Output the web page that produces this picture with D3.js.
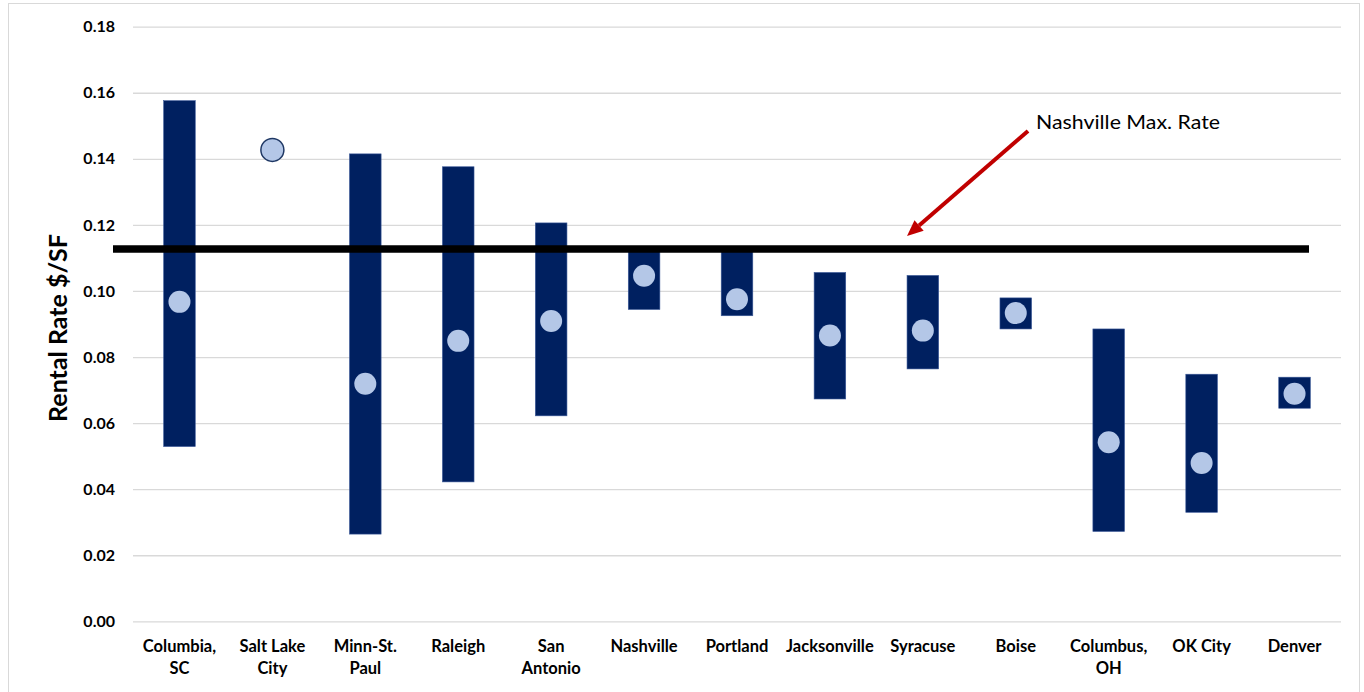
<!DOCTYPE html>
<html>
<head>
<meta charset="utf-8">
<script src="https://cdn.jsdelivr.net/npm/d3@7"></script>
<style>
  html, body { margin: 0; padding: 0; background: #fff; }
  svg { display: block; }
</style>
</head>
<body>
<div id="chart"></div>
<script>
// Rental rate ranges ($/SF) by metro area
const categories = ["Columbia, SC", "Salt Lake City", "Minn-St. Paul", "Raleigh", "San Antonio",
  "Nashville", "Portland", "Jacksonville", "Syracuse", "Boise", "Columbus, OH", "OK City", "Denver"];
const labelLines = [["Columbia,", "SC"], ["Salt Lake", "City"], ["Minn-St.", "Paul"], ["Raleigh"],
  ["San", "Antonio"], ["Nashville"], ["Portland"], ["Jacksonville"], ["Syracuse"], ["Boise"],
  ["Columbus,", "OH"], ["OK City"], ["Denver"]];
const rateMin = [0.0529, null, 0.0264, 0.0422, 0.0622, 0.0944, 0.0925, 0.0673, 0.0764, 0.0885, 0.0272, 0.0330, 0.0645];
const rateMax = [0.1576, null, 0.1415, 0.1376, 0.1206, 0.1120, 0.1120, 0.1056, 0.1047, 0.0979, 0.0885, 0.0748, 0.0739];
const rateAvg = [0.0967, 0.1427, 0.0719, 0.0849, 0.0909, 0.1046, 0.0975, 0.0865, 0.0880, 0.0933, 0.0542, 0.0479, 0.0689];
const yTicks = [0, 0.02, 0.04, 0.06, 0.08, 0.10, 0.12, 0.14, 0.16, 0.18];
const nashvilleMaxRate = 0.1127;
const annotationText = "Nashville Max. Rate";
const yTitle = "Rental Rate $/SF";

const W = 1364, H = 692;
const plot = { left: 133, right: 1341, top: 26.7, bottom: 621.3 };

const svg = d3.select("#chart").append("svg")
  .attr("width", W).attr("height", H)
  .style("font-family", "Lato, 'Open Sans', sans-serif");

// chart frame
svg.append("rect")
  .attr("x", 8.5).attr("y", 3.5).attr("width", 1351).attr("height", 700)
  .attr("fill", "#fff").attr("stroke", "#d9d9d9").attr("stroke-width", 1);

const x = d3.scaleBand().domain(categories)
  .range([plot.left, plot.right]).paddingInner(0.66).paddingOuter(0.33);
const y = d3.scaleLinear().domain([0, 0.18]).range([plot.bottom, plot.top]);

// y axis with gridlines
const yAxis = d3.axisLeft(y).tickValues(yTicks).tickFormat(d3.format(".2f"))
  .tickSize(-(plot.right - plot.left)).tickPadding(18);
const gy = svg.append("g").attr("transform", `translate(${plot.left},0)`).call(yAxis);
gy.select(".domain").remove();
gy.selectAll(".tick line").attr("stroke", "#d9d9d9").attr("stroke-width", 1.3);
gy.selectAll(".tick text")
  .attr("fill", "#000").attr("font-size", 16).attr("font-weight", 700)
  .style("font-family", "Lato, sans-serif");

// y axis title
svg.append("text")
  .attr("transform", `translate(67,${(plot.top + plot.bottom) / 2 + 4}) rotate(-90)`)
  .attr("text-anchor", "middle")
  .attr("font-size", 25).attr("font-weight", 700).attr("fill", "#000")
  .text(yTitle);

// category labels
const gx = svg.append("g");
categories.forEach((c, i) => {
  const t = gx.append("text")
    .attr("text-anchor", "middle")
    .attr("font-size", 16.5).attr("font-weight", 700).attr("fill", "#000");
  labelLines[i].forEach((ln, j) => {
    t.append("tspan")
      .attr("x", x(c) + x.bandwidth() / 2)
      .attr("y", 652 + j * 22)
      .text(ln);
  });
});

// min–max range bars
const rows = categories.map((c, i) => ({ c, lo: rateMin[i], hi: rateMax[i], avg: rateAvg[i] }));
svg.append("g").selectAll("rect")
  .data(rows.filter(d => d.lo != null && d.hi != null))
  .join("rect")
  .attr("x", d => x(d.c))
  .attr("width", x.bandwidth())
  .attr("y", d => y(d.hi))
  .attr("height", d => y(d.lo) - y(d.hi))
  .attr("fill", "#002060")
  .attr("stroke", "#3b5998").attr("stroke-width", 0.6);

// Nashville maximum rate reference line
svg.append("line")
  .attr("x1", 113).attr("x2", 1309)
  .attr("y1", y(nashvilleMaxRate)).attr("y2", y(nashvilleMaxRate))
  .attr("stroke", "#000").attr("stroke-width", 7.5);

// average rate markers
svg.append("g").selectAll("circle")
  .data(rows)
  .join("circle")
  .attr("cx", d => x(d.c) + x.bandwidth() / 2)
  .attr("cy", d => y(d.avg))
  .attr("r", d => d.lo == null ? 11.5 : 11)
  .attr("fill", "#b4c7e7")
  .attr("stroke", d => d.lo == null ? "#1f3864" : "none")
  .attr("stroke-width", 1.5);

// annotation arrow
const a0 = [1028, 131], a1 = [907, 236];
const ang = Math.atan2(a1[1] - a0[1], a1[0] - a0[0]);
const headLen = 16, headHalf = 7;
const base = [a1[0] - headLen * Math.cos(ang), a1[1] - headLen * Math.sin(ang)];
svg.append("line")
  .attr("x1", a0[0]).attr("y1", a0[1]).attr("x2", base[0]).attr("y2", base[1])
  .attr("stroke", "#c00000").attr("stroke-width", 4);
svg.append("polygon")
  .attr("points", [
    a1,
    [base[0] + headHalf * Math.sin(ang), base[1] - headHalf * Math.cos(ang)],
    [base[0] - headHalf * Math.sin(ang), base[1] + headHalf * Math.cos(ang)]
  ].map(p => p.join(",")).join(" "))
  .attr("fill", "#c00000");

svg.append("text")
  .attr("x", 1036).attr("y", 129)
  .attr("font-size", 20).attr("fill", "#000")
  .attr("textLength", 184).attr("lengthAdjust", "spacingAndGlyphs")
  .text(annotationText);
</script>
</body>
</html>
